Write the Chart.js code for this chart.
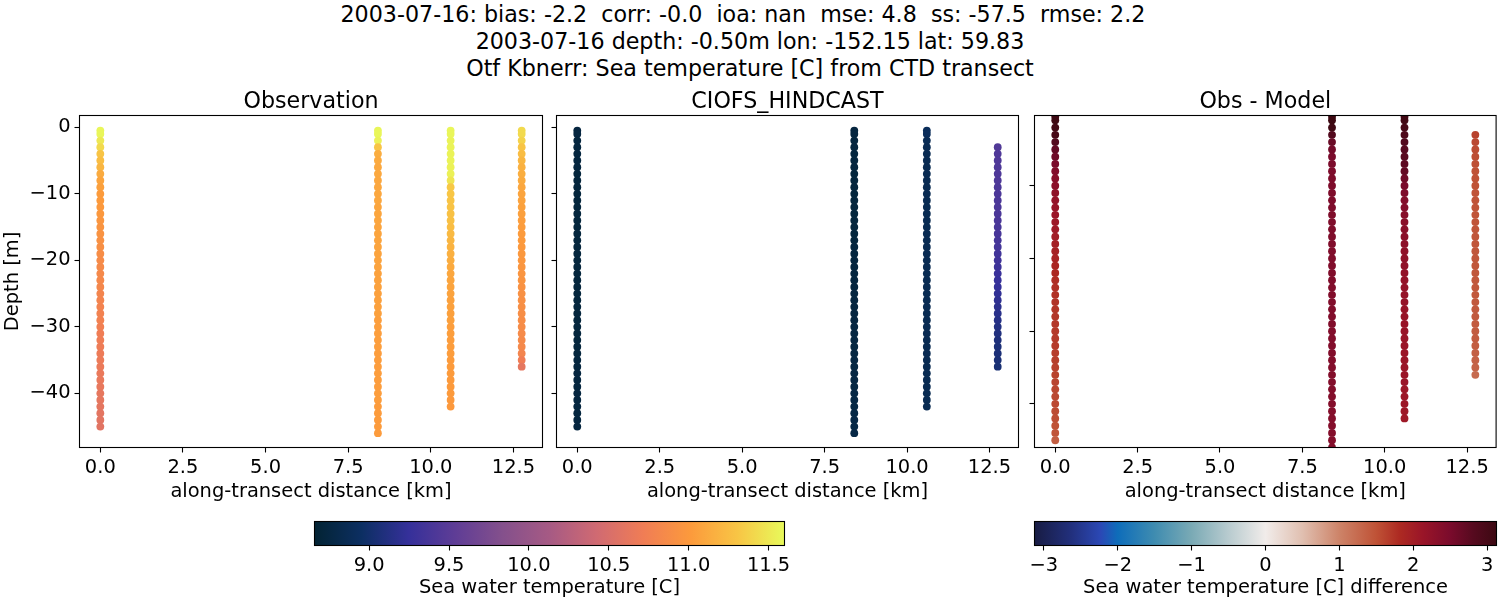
<!DOCTYPE html>
<html>
<head>
<meta charset="utf-8">
<title>CTD transect</title>
<script src="https://cdn.jsdelivr.net/npm/chart.js@4/dist/chart.umd.min.js"></script>
<style>
    html, body { margin: 0; padding: 0; background: #fff; }
    body { width: 1500px; height: 600px; position: relative; overflow: hidden; font-family: "DejaVu Sans", sans-serif; }
    canvas { position: absolute; display: block; }
    #suptitle { position: absolute; left: 0; top: 1px; width: 1500px; text-align: center; font-size: 22.2px; line-height: 27px; color: #000; white-space: pre; }
</style>
</head>
<body>

<div id="suptitle">2003-07-16: bias: -2.2  corr: -0.0  ioa: nan  mse: 4.8  ss: -57.5  rmse: 2.2  
2003-07-16 depth: -0.50m lon: -152.15 lat: 59.83
Otf Kbnerr: Sea temperature [C] from CTD transect</div>

<canvas id="obsChart"></canvas>
<canvas id="modelChart"></canvas>
<canvas id="diffChart"></canvas>
<canvas id="tempBar"></canvas>
<canvas id="diffBar"></canvas>

<script>
// along-transect distance of the four casts [km]
const castDistance = [0, 8.4, 10.6, 12.75];

// depth bins shared by all casts [m]
const depths = [
    -0.5, -1, -2, -3, -4, -5, -6, -7, -8, -9,
    -10, -11, -12, -13, -14, -15, -16, -17, -18, -19,
    -20, -21, -22, -23, -24, -25, -26, -27, -28, -29,
    -30, -31, -32, -33, -34, -35, -36, -37, -38, -39,
    -40, -41, -42, -43, -44, -45, -46
];

// first depth bin of each cast in the model and difference panels
const castStart = [0, 0, 0, 3];

const obsCast1 = [
    11.58, 11.58, 11.5, 11.42, 11.3, 11.25, 11.2, 11.13, 11.08, 11.05,
    11.02, 11.01, 11.0, 10.99, 10.97, 10.95, 10.94, 10.92, 10.9, 10.88,
    10.86, 10.85, 10.84, 10.83, 10.82, 10.8, 10.79, 10.78, 10.77, 10.76,
    10.74, 10.72, 10.71, 10.7, 10.69, 10.68, 10.67, 10.66, 10.65, 10.64,
    10.63, 10.62, 10.61, 10.6, 10.59, 10.58
];
const obsCast2 = [
    11.58, 11.58, 11.55, 11.3, 11.14, 11.12, 11.11, 11.11, 11.1, 11.1,
    11.1, 11.1, 11.09, 11.09, 11.09, 11.08, 11.08, 11.08, 11.08, 11.07,
    11.07, 11.07, 11.06, 11.06, 11.06, 11.05, 11.05, 11.05, 11.05, 11.04,
    11.04, 11.04, 11.04, 11.04, 11.03, 11.03, 11.03, 11.03, 11.03, 11.03,
    11.03, 11.03, 11.02, 11.02, 11.02, 11.02, 11.02
];
const obsCast3 = [
    11.58, 11.58, 11.56, 11.56, 11.56, 11.56, 11.55, 11.55, 11.48, 11.32,
    11.31, 11.3, 11.29, 11.28, 11.27, 11.25, 11.23, 11.2, 11.18, 11.16,
    11.14, 11.12, 11.1, 11.09, 11.08, 11.07, 11.06, 11.06, 11.05, 11.05,
    11.04, 11.04, 11.03, 11.03, 11.03, 11.02, 11.02, 11.02, 11.01, 11.01,
    11.01, 11.0, 11.0
];
const obsCast4 = [
    11.42, 11.42, 11.38, 11.3, 11.25, 11.2, 11.17, 11.15, 11.13, 11.1,
    11.08, 11.07, 11.06, 11.05, 11.04, 11.03, 11.02, 11.01, 11.0, 10.99,
    10.98, 10.97, 10.96, 10.95, 10.93, 10.92, 10.91, 10.9, 10.89, 10.88,
    10.87, 10.86, 10.85, 10.84, 10.8, 10.72, 10.62
];

const modelCast1 = [
    8.74, 8.74, 8.73, 8.73, 8.73, 8.73, 8.73, 8.72, 8.72, 8.72,
    8.72, 8.72, 8.72, 8.72, 8.72, 8.72, 8.72, 8.72, 8.72, 8.72,
    8.72, 8.72, 8.72, 8.72, 8.72, 8.72, 8.72, 8.72, 8.72, 8.72,
    8.72, 8.72, 8.72, 8.72, 8.72, 8.73, 8.73, 8.73, 8.73, 8.73,
    8.73, 8.73, 8.73, 8.73, 8.73, 8.73
];
const modelCast2 = [
    8.74, 8.74, 8.73, 8.73, 8.73, 8.73, 8.73, 8.72, 8.72, 8.72,
    8.72, 8.72, 8.72, 8.72, 8.72, 8.72, 8.72, 8.72, 8.73, 8.73,
    8.73, 8.73, 8.73, 8.73, 8.73, 8.74, 8.74, 8.74, 8.74, 8.74,
    8.75, 8.75, 8.75, 8.75, 8.75, 8.76, 8.76, 8.76, 8.76, 8.76,
    8.77, 8.77, 8.77, 8.77, 8.78, 8.78, 8.78
];
const modelCast3 = [
    8.9, 8.9, 8.87, 8.86, 8.85, 8.85, 8.85, 8.85, 8.85, 8.85,
    8.85, 8.85, 8.85, 8.85, 8.85, 8.85, 8.85, 8.85, 8.85, 8.85,
    8.85, 8.85, 8.85, 8.85, 8.85, 8.85, 8.85, 8.85, 8.85, 8.85,
    8.85, 8.85, 8.85, 8.85, 8.85, 8.85, 8.85, 8.85, 8.85, 8.85,
    8.85, 8.85, 8.85
];
const modelCast4 = [
    9.44, 9.43, 9.43, 9.42, 9.42, 9.42, 9.41, 9.41, 9.4, 9.4,
    9.4, 9.39, 9.38, 9.37, 9.36, 9.35, 9.33, 9.32, 9.3, 9.28,
    9.26, 9.24, 9.22, 9.2, 9.18, 9.16, 9.14, 9.12, 9.1, 9.08,
    9.07, 9.06, 9.05, 9.04
];

const diffCast1 = [
    3.1, 3.1, 3.05, 3.0, 2.85, 2.7, 2.6, 2.5, 2.42, 2.35,
    2.3, 2.25, 2.2, 2.16, 2.12, 2.08, 2.05, 2.0, 1.97, 1.94,
    1.9, 1.87, 1.83, 1.78, 1.77, 1.76, 1.74, 1.73, 1.72, 1.71,
    1.7, 1.69, 1.68, 1.66, 1.65, 1.63, 1.62, 1.6, 1.59, 1.58,
    1.57, 1.55, 1.53, 1.5, 1.47, 1.38
];
const diffCast2 = [
    3.12, 3.12, 3.08, 2.85, 2.65, 2.55, 2.5, 2.48, 2.46, 2.45,
    2.45, 2.45, 2.45, 2.45, 2.44, 2.44, 2.44, 2.44, 2.43, 2.43,
    2.43, 2.43, 2.43, 2.43, 2.42, 2.42, 2.42, 2.42, 2.42, 2.42,
    2.41, 2.41, 2.41, 2.41, 2.4, 2.4, 2.4, 2.4, 2.4, 2.4,
    2.39, 2.39, 2.39, 2.38, 2.38, 2.38, 2.38
];
const diffCast3 = [
    3.05, 3.05, 3.0, 2.9, 2.85, 2.8, 2.78, 2.75, 2.7, 2.6,
    2.5, 2.45, 2.4, 2.38, 2.35, 2.33, 2.32, 2.3, 2.28, 2.26,
    2.25, 2.24, 2.22, 2.2, 2.2, 2.18, 2.18, 2.16, 2.16, 2.15,
    2.15, 2.14, 2.14, 2.13, 2.13, 2.12, 2.12, 2.12, 2.1, 2.1,
    2.1, 2.08, 2.06
];
const diffCast4 = [
    1.62, 1.58, 1.55, 1.53, 1.52, 1.5, 1.5, 1.49, 1.48, 1.48,
    1.47, 1.47, 1.47, 1.46, 1.46, 1.46, 1.45, 1.45, 1.45, 1.45,
    1.44, 1.44, 1.43, 1.43, 1.42, 1.42, 1.41, 1.4, 1.4, 1.38,
    1.36, 1.34, 1.32, 1.25
];

// tick labels
const distanceTicks = [0, 2.5, 5, 7.5, 10, 12.5];
const depthTicks = [0, -10, -20, -30, -40];
const diffDepthTicks = [-10, -20, -30, -40];
const tempBarTicks = [9, 9.5, 10, 10.5, 11, 11.5];
const diffBarTicks = [-3, -2, -1, 0, 1, 2, 3];

// colour ranges
const tempRange = [8.658, 11.6];
const diffRange = [-3.127, 3.127];

const thermalStops = [
    [0, "#032333"], [0.1, "#0c2f62"], [0.2, "#35309a"], [0.3, "#5f3d96"],
    [0.4, "#84508c"], [0.5, "#a65a84"], [0.6, "#d06a72"], [0.7, "#f07d55"],
    [0.8, "#fc9a3c"], [0.9, "#f8c545"], [1, "#e8fa5b"]
];
const balanceStops = [
    [0, "#181c43"], [0.08, "#22307d"], [0.143, "#2b48b5"], [0.18, "#0e6dba"],
    [0.26, "#3f8cb0"], [0.34, "#7aaab5"], [0.42, "#b8cbcf"], [0.5, "#f1ecea"],
    [0.58, "#e0bfb0"], [0.66, "#cd8368"], [0.74, "#bf5236"], [0.79, "#ad2a22"],
    [0.84, "#9a1528"], [0.9, "#7a0b2c"], [0.95, "#560a1f"], [1, "#3c0912"]
];

const FONT = "'DejaVu Sans', sans-serif";
const LABEL_SIZE = 19.44;
const TITLE_SIZE = 22.2;

function hexToRgb(hex) {
    return [1, 3, 5].map(i => parseInt(hex.slice(i, i + 2), 16));
}

function colorFor(stops, range, value) {
    const t = Math.min(1, Math.max(0, (value - range[0]) / (range[1] - range[0])));
    for (let i = 1; i < stops.length; i++) {
        if (t <= stops[i][0]) {
            const f = (t - stops[i - 1][0]) / (stops[i][0] - stops[i - 1][0]);
            const a = hexToRgb(stops[i - 1][1]);
            const b = hexToRgb(stops[i][1]);
            const c = a.map((v, k) => Math.round(v + (b[k] - v) * f));
            return `rgb(${c[0]},${c[1]},${c[2]})`;
        }
    }
    return stops[stops.length - 1][1];
}

function minusSign(text) {
    return String(text).replace("-", "\u2212");
}

function castDatasets(casts, starts, stops, range) {
    return casts.map((values, c) => ({
        data: values.map((v, i) => ({ x: castDistance[c], y: depths[starts[c] + i], v: v })),
        pointRadius: 3.9,
        pointHoverRadius: 3.9,
        pointBorderWidth: 0,
        pointBackgroundColor: ctx => colorFor(stops, range, ctx.raw.v),
        showLine: false,
        clip: 0
    }));
}

const framePlugin = {
    id: "frame",
    afterDraw(chart) {
        const a = chart.chartArea;
        const ctx = chart.ctx;
        ctx.save();
        ctx.strokeStyle = "#000";
        ctx.lineWidth = 1.1;
        ctx.strokeRect(a.left, a.top, a.right - a.left, a.bottom - a.top);
        ctx.restore();
    }
};

// colour bar body, laid out through the x scale of the bar chart
const rampPlugin = {
    id: "ramp",
    beforeDatasetsDraw(chart, args, opts) {
        const x = chart.scales.x;
        const a = chart.chartArea;
        const left = x.getPixelForValue(opts.range[0]);
        const right = x.getPixelForValue(opts.range[1]);
        const grad = chart.ctx.createLinearGradient(left, 0, right, 0);
        opts.stops.forEach(s => grad.addColorStop(s[0], s[1]));
        chart.ctx.fillStyle = grad;
        chart.ctx.fillRect(left, a.top, right - left, a.bottom - a.top);
    }
};

function axisBase(tickValues, format, showLabels) {
    return {
        type: "linear",
        afterBuildTicks: axis => { axis.ticks = tickValues.map(v => ({ value: v })); },
        grid: { display: true, drawOnChartArea: false, tickLength: 5, tickWidth: 1.1, tickColor: "#000" },
        border: { display: false },
        ticks: {
            display: showLabels,
            color: "#000",
            font: { family: FONT, size: LABEL_SIZE },
            padding: 4,
            maxRotation: 0,
            autoSkip: false,
            callback: v => minusSign(format(v))
        }
    };
}

function makePanel(id, box, opts) {
    const canvas = document.getElementById(id);
    canvas.width = box.width;
    canvas.height = box.height;
    canvas.style.left = box.left + "px";
    canvas.style.top = box.top + "px";

    const x = axisBase(distanceTicks, v => v.toFixed(1), true);
    x.min = -0.63;
    x.max = 13.38;
    x.title = { display: true, text: "along-transect distance [km]", color: "#000", font: { family: FONT, size: LABEL_SIZE }, padding: { top: 0, bottom: 6 } };
    x.afterFit = axis => { axis.height = box.xAxisHeight; };

    const y = axisBase(opts.yTicks, v => String(v), opts.yLabels);
    y.min = opts.yMin;
    y.max = opts.yMax;
    y.afterFit = axis => { axis.width = box.yAxisWidth; };
    if (opts.yTitle) {
        y.title = { display: true, text: opts.yTitle, color: "#000", font: { family: FONT, size: LABEL_SIZE }, padding: { top: 1, bottom: 0 } };
    }

    return new Chart(canvas, {
        type: "scatter",
        data: { datasets: opts.datasets },
        plugins: [framePlugin],
        options: {
            responsive: false,
            animation: false,
            layout: { padding: { left: 0, right: box.rightPad, top: 0, bottom: 0 } },
            plugins: {
                legend: { display: false },
                tooltip: { enabled: false },
                title: {
                    display: true,
                    fullSize: false,
                    text: opts.title,
                    color: "#000",
                    font: { family: FONT, size: TITLE_SIZE, weight: "normal", lineHeight: 24 / TITLE_SIZE },
                    padding: { top: 0, bottom: 1.5 }
                }
            },
            scales: { x: x, y: y }
        }
    });
}

function makeBar(id, box, opts) {
    const canvas = document.getElementById(id);
    canvas.width = box.width;
    canvas.height = box.height;
    canvas.style.left = box.left + "px";
    canvas.style.top = box.top + "px";

    const x = axisBase(opts.ticks, opts.format, true);
    x.min = opts.range[0];
    x.max = opts.range[1];
    x.title = { display: true, text: opts.label, color: "#000", font: { family: FONT, size: LABEL_SIZE }, padding: { top: 0, bottom: 0 } };
    x.afterFit = axis => { axis.height = box.height - box.barHeight - box.topPad; };

    return new Chart(canvas, {
        type: "scatter",
        data: { datasets: [{ data: [] }] },
        plugins: [rampPlugin, framePlugin],
        options: {
            responsive: false,
            animation: false,
            layout: { padding: { left: box.leftPad, right: box.rightPad, top: box.topPad, bottom: 0 } },
            plugins: {
                legend: { display: false },
                tooltip: { enabled: false },
                ramp: { stops: opts.stops, range: opts.range }
            },
            scales: { x: x, y: { display: false, min: 0, max: 1 } }
        }
    });
}

const panelHeights = { top: 90, height: 420, xAxisHeight: 62.5 };

makePanel("obsChart",
    { left: 0, width: 550, yAxisWidth: 79.5, rightPad: 7.5, ...panelHeights },
    {
        title: "Observation",
        yTitle: "Depth [m]",
        yTicks: depthTicks, yLabels: true, yMin: -48.15, yMax: 1.77,
        datasets: castDatasets([obsCast1, obsCast2, obsCast3, obsCast4], [0, 0, 0, 0], thermalStops, tempRange)
    });

makePanel("modelChart",
    { left: 546, width: 480, yAxisWidth: 10.5, rightPad: 7.5, ...panelHeights },
    {
        title: "CIOFS_HINDCAST",
        yTicks: depthTicks, yLabels: false, yMin: -48.15, yMax: 1.77,
        datasets: castDatasets([modelCast1, modelCast2, modelCast3, modelCast4], castStart, thermalStops, tempRange)
    });

makePanel("diffChart",
    { left: 1024, width: 476, yAxisWidth: 10.5, rightPad: 3.5, ...panelHeights },
    {
        title: "Obs - Model",
        yTicks: diffDepthTicks, yLabels: false, yMin: -46.0, yMax: -0.34,
        datasets: castDatasets([diffCast1, diffCast2, diffCast3, diffCast4], castStart, balanceStops, diffRange)
    });

makeBar("tempBar",
    { left: 300, top: 510, width: 500, height: 90, barHeight: 24, topPad: 11.5, leftPad: 14.5, rightPad: 15.5 },
    { ticks: tempBarTicks, format: v => v.toFixed(1), label: "Sea water temperature [C]", range: tempRange, stops: thermalStops });

makeBar("diffBar",
    { left: 1020, top: 510, width: 480, height: 90, barHeight: 24, topPad: 11.5, leftPad: 14.5, rightPad: 3.5 },
    { ticks: diffBarTicks, format: v => String(v), label: "Sea water temperature [C] difference", range: diffRange, stops: balanceStops });
</script>
</body>
</html>
